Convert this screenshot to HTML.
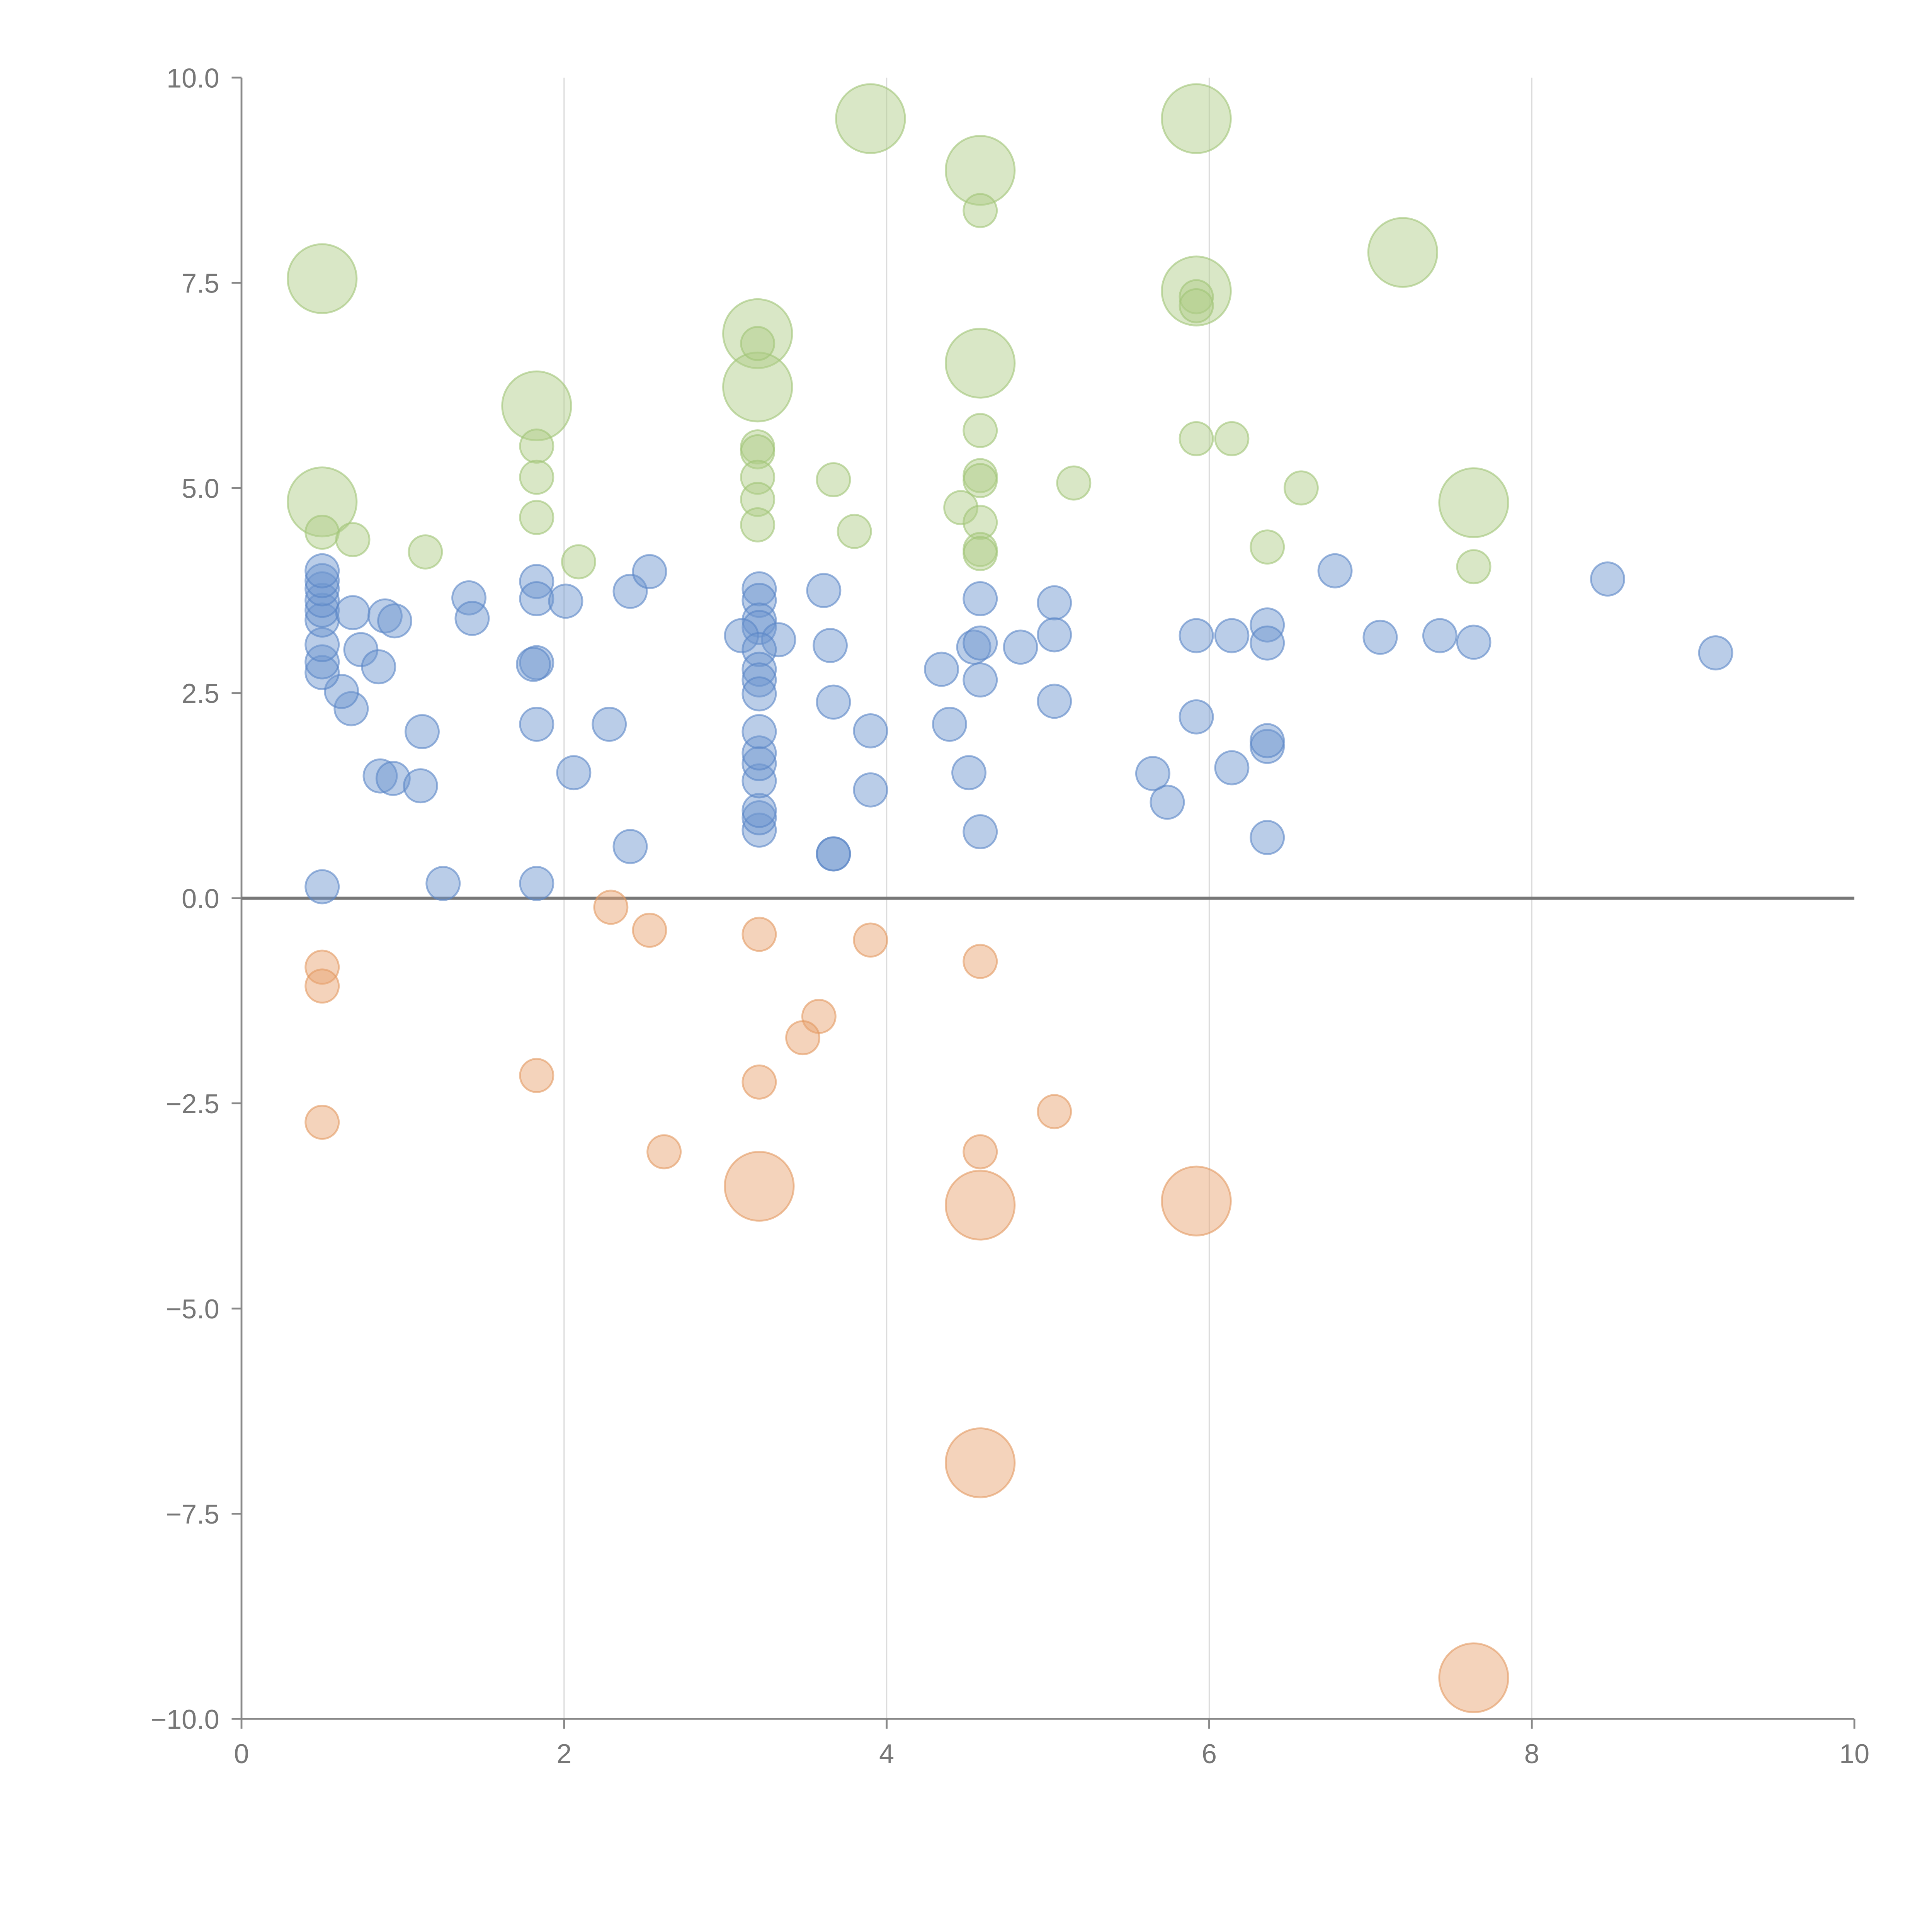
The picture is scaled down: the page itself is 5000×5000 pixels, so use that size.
<!DOCTYPE html>
<html><head><meta charset="utf-8"><style>html,body{margin:0;padding:0;background:#fff}svg{display:block}</style></head>
<body>
<svg id="chart" width="5000" height="5000" viewBox="0 0 1568 1568" xmlns="http://www.w3.org/2000/svg" font-family="Liberation Sans, sans-serif">
<g id="grid"></g>
<g id="axes"></g>
<g id="marks"></g>
</svg>
<script>
const xTicks=[0,2,4,6,8,10];
const yTicks=[10,7.5,5,2.5,0,-2.5,-5,-7.5,-10];
const yTickLabels=["10.0","7.5","5.0","2.5","0.0","\u22122.5","\u22125.0","\u22127.5","\u221210.0"];
const greenX=[0.5,0.5,0.5,0.69,1.14,1.83,1.83,1.83,1.83,2.09,3.2,3.2,3.2,3.2,3.2,3.2,3.2,3.2,3.67,3.8,3.9,4.58,4.58,4.58,4.58,4.58,4.58,4.46,4.58,4.58,4.58,5.16,5.92,5.92,5.92,5.92,5.92,6.14,6.36,6.57,7.2,7.64,7.64];
const greenY=[7.55,4.83,4.46,4.37,4.22,6.0,5.51,5.13,4.64,4.1,6.88,6.23,6.76,5.5,5.44,5.13,4.86,4.55,5.1,4.47,9.5,8.87,8.38,6.52,5.7,5.15,5.09,4.76,4.58,4.25,4.2,5.06,9.5,7.4,7.33,7.22,5.6,5.6,4.28,5.0,7.87,4.82,4.04];
const greenS=[4.3,4.3,1,1,1,4.3,1,1,1,1,4.3,4.3,1,1,1,1,1,1,1,1,4.3,4.3,1,4.3,1,1,1,1,1,1,1,1,4.3,4.3,1,1,1,1,1,1,4.3,4.3,1];
const orangeX=[2.29,2.53,3.21,3.9,4.58,0.5,0.5,3.58,3.48,1.83,3.21,5.04,0.5,2.62,4.58,3.21,4.58,5.92,4.58,7.64];
const orangeY=[-0.11,-0.39,-0.44,-0.51,-0.77,-0.84,-1.07,-1.44,-1.7,-2.16,-2.24,-2.6,-2.73,-3.09,-3.09,-3.51,-3.74,-3.69,-6.88,-9.5];
const orangeS=[1,1,1,1,1,1,1,1,1,1,1,1,1,1,1,4.3,4.3,4.3,4.3,4.3];
const blueX=[0.5,1.25,1.83,2.41,3.67,3.67,3.21,3.21,3.21,4.58,6.36,5.74,5.65,6.14,6.36,6.36,4.51,3.9,3.21,3.21,3.21,3.21,3.9,4.39,1.83,2.28,2.06,1.12,0.86,0.94,1.11,0.68,0.62,0.5,0.5,0.5,0.5,0.5,0.5,0.5,0.5,0.5,0.69,0.74,0.85,0.89,0.95,1.41,1.43,1.83,1.83,1.83,1.81,2.01,2.41,2.53,3.21,3.21,3.21,3.21,3.1,3.33,3.21,3.21,3.21,3.21,3.61,3.65,3.67,4.34,4.54,4.58,4.58,4.58,4.83,5.04,5.04,5.04,5.92,5.92,6.14,6.36,6.36,6.78,7.06,7.43,7.64,8.47,9.14];
const blueY=[0.14,0.18,0.18,0.63,0.54,0.54,0.83,0.98,1.07,0.81,0.74,1.17,1.52,1.59,1.85,1.92,1.53,1.32,1.43,1.64,1.77,2.03,2.04,2.12,2.12,2.12,1.53,2.03,1.49,1.46,1.37,2.31,2.52,2.75,2.88,3.09,3.39,3.51,3.63,3.77,3.87,3.99,3.48,3.03,2.82,3.44,3.38,3.66,3.41,3.86,3.65,2.87,2.85,3.62,3.74,3.98,3.77,3.63,3.39,3.3,3.2,3.15,3.03,2.79,2.66,2.49,3.75,3.08,2.39,2.79,3.06,3.11,3.65,2.66,3.06,3.6,3.21,2.4,3.2,2.21,3.2,3.33,3.11,3.99,3.18,3.2,3.12,3.89,2.99];
const NS="http://www.w3.org/2000/svg";
const X0=196,X1=1505,Y0=1395,Y1=63;
function sx(v){return X0+(v-0)/(10-0)*(X1-X0);}
function sy(v){return Y0-(v+10)/20*(Y0-Y1);}
function mk(tag,attrs,parent){const e=document.createElementNS(NS,tag);for(const k in attrs)e.setAttribute(k,attrs[k]);parent.appendChild(e);return e;}
const grid=document.getElementById('grid'),axes=document.getElementById('axes'),marks=document.getElementById('marks');
xTicks.forEach(t=>{if(t>0&&t<10){const l=mk('line',{x1:sx(t),x2:sx(t),y1:Y1,y2:Y0,stroke:'#dcdcdc','stroke-width':1},grid);

}});
let e=mk('line',{x1:X0,x2:X0,y1:Y1,y2:Y0,stroke:'#888','stroke-width':1.5},axes);


e=mk('line',{x1:X0,x2:X1,y1:Y0,y2:Y0,stroke:'#888','stroke-width':1.5},axes);


yTicks.forEach((t,i)=>{const tk=mk('line',{x1:X0-8,x2:X0,y1:sy(t),y2:sy(t),stroke:'#888','stroke-width':1.5},axes);


const tx=mk('text',{x:X0-18,y:sy(t)+8,'text-anchor':'end','font-size':22,fill:'#777'},axes);tx.textContent=yTickLabels[i];

});
xTicks.forEach(t=>{const tk=mk('line',{x1:sx(t),x2:sx(t),y1:Y0,y2:Y0+8,stroke:'#888','stroke-width':1.5},axes);


const tx=mk('text',{x:sx(t),y:Y0+36,'text-anchor':'middle','font-size':22,fill:'#777'},axes);tx.textContent=String(t);

});
function series(xs,ys,ss,fill,stroke,name){xs.forEach((x,i)=>{const c=mk('circle',{cx:sx(x),cy:sy(ys[i]),r:13.5*Math.sqrt(ss[i]),fill:fill,'fill-opacity':0.48,stroke:stroke,'stroke-opacity':0.6,'stroke-width':1.5},marks);

});}
series(blueX,blueY,blueX.map(()=>1),'#6f97cf','#5a86c6','blue-bubble');
series(greenX,greenY,greenS,'#b0cd88','#a0c477','green-bubble');
series(orangeX,orangeY,orangeS,'#e8a470','#e29a60','orange-bubble');
const z=mk('line',{x1:X0,x2:X1,y1:sy(0),y2:sy(0),stroke:'#777','stroke-width':2.5},axes);


</script>
</body></html>
